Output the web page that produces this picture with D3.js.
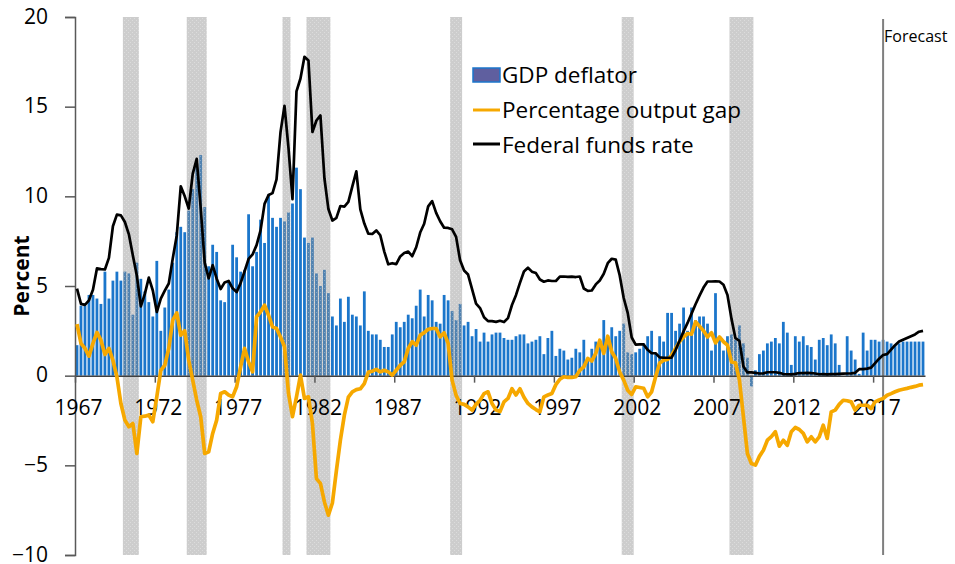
<!DOCTYPE html>
<html>
<head>
<meta charset="utf-8">
<script src="https://cdn.jsdelivr.net/npm/d3@7"></script>
<style>
  body { margin: 0; background: #fff; }
  svg text { font-family: "Open Sans", "Noto Sans", sans-serif; fill: #000; }
</style>
</head>
<body>
<div id="chart"></div>
<script>
// quarterly data, 1967Q1 .. 2020Q1
var startYear = 1967;
var tickYears = ["1967", "1972", "1977", "1982", "1987", "1992", "1997", "2002", "2007", "2012", "2017"];

var gdpDeflator = [
  1.7, 3.9, 3.9, 4.5, 4.5, 4.3, 4.0, 5.8, 4.3, 5.3, 5.8, 5.3,
  5.8, 5.7, 3.4, 6.3, 5.4, 4.7, 4.1, 3.3, 6.4, 2.5, 3.8, 4.8,
  6.3, 8.0, 8.3, 8.0, 9.2, 10.4, 11.8, 12.3, 9.4, 6.1, 7.3, 6.9,
  4.2, 4.1, 5.2, 7.3, 6.6, 5.8, 5.9, 9.0, 6.1, 6.9, 8.7, 7.4,
  10.1, 8.8, 8.3, 8.8, 8.6, 9.1, 9.6, 11.6, 10.4, 7.7, 7.4, 7.7,
  5.7, 5.0, 5.9, 4.6, 3.3, 2.8, 4.3, 3.0, 4.4, 3.4, 3.3, 2.8,
  4.7, 2.5, 2.3, 2.3, 2.0, 1.6, 1.6, 2.3, 3.0, 2.7, 3.0, 3.4,
  3.2, 3.9, 4.8, 3.3, 4.5, 4.2, 3.0, 2.9, 4.5, 4.2, 3.6, 3.1,
  4.0, 2.8, 3.0, 2.2, 2.6, 1.9, 2.4, 1.9, 2.3, 2.4, 2.4, 2.1,
  2.0, 2.0, 2.2, 2.3, 2.3, 1.8, 1.9, 2.0, 2.2, 1.2, 2.1, 2.5,
  1.1, 1.5, 1.4, 0.9, 1.0, 1.5, 1.3, 2.0, 1.0, 1.5, 1.9, 1.6,
  3.1, 2.2, 2.7, 2.2, 2.5, 2.9, 1.3, 1.2, 1.3, 1.5, 1.8, 2.2,
  2.5, 1.2, 2.2, 1.9, 3.5, 3.5, 2.5, 2.9, 3.8, 2.5, 3.8, 3.1,
  3.3, 3.3, 2.9, 1.4, 4.6, 2.2, 1.4, 2.2, 2.3, 2.0, 2.8, 1.8,
  1.0, -0.6, 0.3, 1.2, 1.4, 1.8, 1.9, 2.1, 1.8, 3.0, 2.4, 0.6,
  2.2, 1.9, 2.2, 1.7, 1.6, 0.9, 2.0, 2.1, 1.7, 2.3, 1.8, 0.6,
  0.0, 2.2, 1.4, 0.9, 0.1, 2.4, 1.4, 2.0, 2.0, 1.9, 2.0, 1.9,
  1.8, 1.7, 1.8, 1.9, 1.9, 1.9, 1.9, 1.9, 1.9
];

var outputGap = [
  2.87, 1.8, 1.52, 1.09, 1.8, 2.41, 1.98, 1.18, 1.52, 0.86, -0.06, -1.55,
  -2.48, -2.85, -2.67, -4.34, -2.29, -2.26, -2.2, -2.57, -1.18, 0.3, 0.58, 1.52,
  3.1, 3.5, 2.26, 2.5, 0.86, -0.25, -1.37, -2.29, -4.34, -4.25, -3.22, -2.48,
  -0.99, -0.9, -1.08, -1.18, -0.62, 0.49, 1.52, 0.77, 0.21, 3.28, 3.56, 3.93,
  3.37, 2.72, 2.63, 2.16, 1.61, -0.99, -2.29, -1.18, 0.03, -1.27, -1.18, -2.67,
  -5.74, -6.01, -7.04, -7.78, -7.1, -5.3, -3.6, -2.2, -1.2, -0.9, -0.78, -0.73,
  -0.44, 0.2, 0.25, 0.35, 0.21, 0.3, 0.21, 0.03, 0.3, 0.58, 0.77, 1.52,
  1.89, 1.7, 2.26, 2.4, 2.59, 2.63, 2.63, 2.16, 2.39, 1.8, -0.25, -1.1,
  -1.55, -1.6, -1.74, -1.92, -1.6, -1.37, -1.0, -0.9, -1.55, -1.92, -2.0, -1.46,
  -1.27, -0.73, -1.08, -0.73, -1.2, -1.55, -1.74, -1.89, -2.02, -1.18, -1.08, -0.99,
  -0.5, -0.2, -0.06, -0.1, -0.1, -0.06, 0.3, 0.49, 0.96, 0.82, 1.24, 1.98,
  1.24, 2.2, 1.33, 0.96, 0.2, -0.25, -0.81, -1.05, -0.62, -0.66, -0.7, -1.18,
  -0.9, -0.06, 0.7, 0.86, 0.9, 1.14, 1.52, 1.9, 2.16, 2.35, 2.31, 3.0,
  2.76, 2.5, 2.16, 2.39, 1.83, 2.16, 1.89, 1.7, 0.77, 0.72, -0.25, -2.29,
  -4.34, -4.9, -4.99, -4.5, -4.16, -3.6, -3.4, -3.13, -3.93, -3.6, -3.88, -3.13,
  -2.89, -3.0, -3.22, -3.69, -3.41, -3.69, -3.41, -2.76, -3.5, -2.02, -1.92, -1.6,
  -1.37, -1.4, -1.46, -1.92, -1.65, -1.65, -1.65, -1.83, -1.46, -1.35, -1.27, -1.09,
  -1.0, -0.9, -0.81, -0.76, -0.71, -0.65, -0.6, -0.53, -0.5
];

var fedFunds = [
  4.85, 4.0, 3.95, 4.2, 4.79, 5.98, 5.94, 5.92, 6.57, 8.33, 8.98, 8.94,
  8.57, 7.88, 6.7, 5.57, 3.86, 4.56, 5.47, 4.75, 3.55, 4.3, 4.74, 5.14,
  6.54, 7.82, 10.56, 10.0, 9.32, 11.25, 12.09, 9.35, 6.3, 5.42, 6.16, 5.41,
  4.83, 5.2, 5.28, 4.87, 4.66, 5.16, 5.82, 6.51, 6.76, 7.28, 8.1, 9.58,
  10.07, 10.18, 10.95, 13.58, 15.05, 12.69, 9.84, 15.85, 16.57, 17.78, 17.58, 13.59,
  14.23, 14.51, 11.01, 9.29, 8.65, 8.8, 9.46, 9.43, 9.69, 10.56, 11.39, 9.27,
  8.48, 7.92, 7.9, 8.1, 7.83, 6.92, 6.21, 6.27, 6.22, 6.65, 6.84, 6.92,
  6.66, 7.16, 7.98, 8.47, 9.44, 9.73, 9.08, 8.61, 8.25, 8.24, 8.16, 7.74,
  6.43, 5.86, 5.64, 4.82, 4.02, 3.77, 3.26, 3.04, 3.04, 3.0, 3.06, 2.99,
  3.21, 3.94, 4.49, 5.17, 5.81, 6.02, 5.8, 5.72, 5.36, 5.24, 5.31, 5.28,
  5.28, 5.52, 5.53, 5.51, 5.52, 5.5, 5.53, 4.86, 4.73, 4.75, 5.09, 5.31,
  5.68, 6.27, 6.52, 6.47, 5.59, 4.33, 3.5, 2.13, 1.73, 1.75, 1.74, 1.44,
  1.25, 1.25, 1.02, 1.0, 1.0, 1.01, 1.43, 1.95, 2.47, 2.94, 3.46, 3.98,
  4.46, 4.91, 5.25, 5.25, 5.26, 5.25, 5.07, 4.5, 3.18, 2.09, 1.94, 0.51,
  0.18, 0.18, 0.16, 0.12, 0.13, 0.19, 0.19, 0.19, 0.16, 0.09, 0.08, 0.07,
  0.1, 0.15, 0.14, 0.16, 0.14, 0.12, 0.08, 0.09, 0.07, 0.09, 0.09, 0.1,
  0.11, 0.12, 0.13, 0.16, 0.36, 0.37, 0.39, 0.45, 0.7, 0.95, 1.15, 1.2,
  1.45, 1.7, 1.9, 2.0, 2.1, 2.2, 2.3, 2.45, 2.5
];

var recessions = [
  ["1970Q1", "1970Q4"], ["1974Q1", "1975Q1"], ["1980Q1", "1980Q2"], ["1981Q3", "1982Q4"],
  ["1990Q3", "1991Q1"], ["2001Q2", "2001Q4"], ["2008Q1", "2009Q2"]
];
var forecastStart = "2017Q3";

var quarters = gdpDeflator.map(function (d, i) {
  return (startYear + Math.floor(i / 4)) + "Q" + (i % 4 + 1);
});

var width = 955, height = 564;
var plot = {left: 75, right: 925, top: 17, bottom: 555};

var svg = d3.select("#chart").append("svg")
  .attr("width", width)
  .attr("height", height);

var x = d3.scaleBand()
  .domain(quarters)
  .range([plot.left, plot.right])
  .paddingInner(0.3)
  .paddingOuter(0.15);
// slot positions (category edges) for ticks and shading
var xIdx = d3.scaleLinear()
  .domain([0, quarters.length])
  .range([plot.left, plot.right]);
var y = d3.scaleLinear()
  .domain([-10, 20])
  .range([plot.bottom, plot.top]);

function cx(q) { return x(q) + x.bandwidth() / 2; }

// shading pattern for recessions
var defs = svg.append("defs");
var pat = defs.append("pattern")
  .attr("id", "recess")
  .attr("patternUnits", "userSpaceOnUse")
  .attr("width", 4).attr("height", 4);
pat.append("rect").attr("width", 4).attr("height", 4).attr("fill", "rgba(145,145,145,0.45)");
pat.append("rect").attr("width", 1).attr("height", 1).attr("x", 0).attr("y", 0).attr("fill", "rgba(255,255,255,0.3)");
pat.append("rect").attr("width", 1).attr("height", 1).attr("x", 2).attr("y", 2).attr("fill", "rgba(255,255,255,0.3)");

// bars
svg.append("g").selectAll("rect")
  .data(gdpDeflator)
  .enter().append("rect")
  .attr("x", function (d, i) { return x(quarters[i]); })
  .attr("width", x.bandwidth())
  .attr("y", function (d) { return y(Math.max(0, d)); })
  .attr("height", function (d) { return Math.abs(y(d) - y(0)); })
  .attr("fill", "#1b76cb");

// recession shading
svg.append("g").selectAll("rect")
  .data(recessions)
  .enter().append("rect")
  .attr("x", function (d) { return xIdx(quarters.indexOf(d[0])); })
  .attr("width", function (d) { return xIdx(quarters.indexOf(d[1]) + 1) - xIdx(quarters.indexOf(d[0])); })
  .attr("y", y(20))
  .attr("height", y(-10) - y(20))
  .attr("fill", "url(#recess)");

// forecast marker
var fx = cx(forecastStart);
svg.append("line")
  .attr("x1", fx).attr("x2", fx)
  .attr("y1", 19).attr("y2", y(-10))
  .attr("stroke", "#7f7f7f")
  .attr("stroke-width", 2);
svg.append("text")
  .attr("x", fx + 1)
  .attr("y", 42)
  .style("font-size", "16px")
  .text("Forecast");

// y axis
var yAxis = svg.append("g")
  .attr("transform", "translate(" + plot.left + ",0)")
  .call(d3.axisLeft(y).tickValues([-10, -5, 0, 5, 10, 15, 20]).tickSize(10).tickPadding(17));
yAxis.select(".domain").attr("stroke", "#595959").attr("stroke-width", 1.5);
yAxis.selectAll(".tick line").attr("stroke", "#595959").attr("stroke-width", 1.5);
yAxis.selectAll("text").style("font-size", "21px").attr("dy", "0.3em").attr("fill", "#000");

svg.append("text")
  .attr("transform", "translate(29," + 276 + ") rotate(-90)")
  .attr("text-anchor", "middle")
  .style("font-size", "21px")
  .style("font-weight", "bold")
  .text("Percent");

// x axis at zero
var xAxis = svg.append("g")
  .attr("transform", "translate(0," + y(0) + ")")
  .call(d3.axisBottom(xIdx)
    .tickValues(tickYears.map(function (d, i) { return i * 20; }))
    .tickFormat(function (d, i) { return tickYears[i]; })
    .tickSize(7)
    .tickSizeOuter(0));
xAxis.select(".domain").attr("stroke", "#404040").attr("stroke-width", 1.5);
xAxis.selectAll(".tick line").attr("stroke", "#595959").attr("stroke-width", 1.5);
xAxis.selectAll("text")
  .attr("y", 24)
  .attr("dx", "3px")
  .style("font-size", "21px")
  .attr("fill", "#000");

// lines
var valueline = d3.line()
  .x(function (d, i) { return cx(quarters[i]); })
  .y(function (d) { return y(d); });

svg.append("path")
  .datum(outputGap)
  .attr("d", valueline)
  .attr("fill", "none")
  .attr("stroke", "#f6a800")
  .attr("stroke-width", 3.7)
  .attr("stroke-linejoin", "round");

svg.append("path")
  .datum(fedFunds)
  .attr("d", valueline)
  .attr("fill", "none")
  .attr("stroke", "#000")
  .attr("stroke-width", 2.7)
  .attr("stroke-linejoin", "round");

// legend
var legend = svg.append("g").attr("transform", "translate(473,0)");
legend.append("rect")
  .attr("x", 0).attr("y", 68)
  .attr("width", 27).attr("height", 14)
  .attr("fill", "#5f5f9f")
  .attr("stroke", "#1b76cb")
  .attr("stroke-width", 1.5);
legend.append("line")
  .attr("x1", 0).attr("x2", 27).attr("y1", 110).attr("y2", 110)
  .attr("stroke", "#f6a800").attr("stroke-width", 3);
legend.append("line")
  .attr("x1", 0).attr("x2", 27).attr("y1", 144).attr("y2", 144)
  .attr("stroke", "#000").attr("stroke-width", 3);
legend.selectAll("text")
  .data(["GDP deflator", "Percentage output gap", "Federal funds rate"])
  .enter().append("text")
  .attr("x", 29)
  .attr("y", function (d, i) { return 75 + i * 35; })
  .attr("dy", "0.35em")
  .style("font-size", "22.5px")
  .text(function (d) { return d; });
</script>
</body>
</html>
